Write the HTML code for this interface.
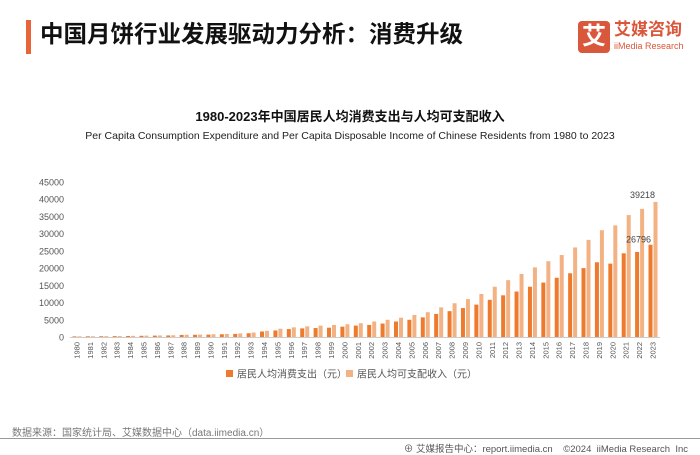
<!DOCTYPE html>
<html><head><meta charset="utf-8"><style>
body{margin:0;width:700px;height:455px;background:#fff;font-family:"Liberation Sans","Noto Sans CJK SC",sans-serif;overflow:hidden;position:relative}
.abs{position:absolute}
</style></head><body>
<div class="abs" style="left:26px;top:20px;width:5px;height:34px;background:#e8643a"></div>
<div class="abs" style="left:40px;top:19px;font-size:23.5px;font-weight:bold;color:#111;line-height:30px">中国月饼行业发展驱动力分析：消费升级</div>
<div class="abs" style="left:578px;top:21px;width:32px;height:32px;background:#d9573a;border-radius:4px;color:#fff;font-size:24px;font-weight:bold;text-align:center;line-height:32px">艾</div>
<div class="abs" style="left:614px;top:20px;font-size:17px;font-weight:bold;color:#d9573a;line-height:20px">艾媒咨询</div>
<div class="abs" style="left:614px;top:41px;font-size:9px;color:#d9573a;line-height:11px">iiMedia Research</div>
<div class="abs" style="left:0;width:700px;top:106px;text-align:center;font-size:13px;font-weight:bold;color:#111">1980-2023年中国居民人均消费支出与人均可支配收入</div>
<div class="abs" style="left:0;width:700px;top:130px;text-align:center;font-size:10.5px;color:#222">Per Capita Consumption Expenditure and Per Capita Disposable Income of Chinese Residents from 1980 to 2023</div>
<svg class="abs" style="left:0;top:0" width="700" height="455" id="chart"></svg>
<div class="abs" style="left:12px;top:424px;font-size:10px;color:#777">数据来源：国家统计局、艾媒数据中心（data.iimedia.cn）</div>
<div class="abs" style="left:0;top:438px;width:700px;height:1px;background:#999"></div>
<div class="abs" style="right:12px;top:441px;font-size:9.5px;color:#555">⊕ 艾媒报告中心：report.iimedia.cn &nbsp;&nbsp; ©2024 &nbsp;iiMedia Research &nbsp;Inc</div>
<script>
const years=[];for(let y=1980;y<=2023;y++)years.push(y);
const consumption=[180,200,220,250,300,350,400,450,600,650,700,800,900,1100,1600,1900,2300,2500,2600,2700,3000,3300,3500,3900,4500,5000,5700,6700,7500,8400,9400,10800,12100,13200,14600,15800,17200,18500,20000,21700,21300,24300,24700,26796];
const income=[200,220,250,280,330,400,450,500,650,700,800,900,1050,1300,1800,2400,2800,3100,3300,3500,3700,4000,4500,5000,5600,6400,7200,8600,9800,11000,12500,14600,16500,18300,20200,22000,23800,26000,28200,31000,32400,35400,37200,39218];
const ticks=[0,5000,10000,15000,20000,25000,30000,35000,40000,45000];
const svg=document.getElementById('chart');const NS='http://www.w3.org/2000/svg';
const y0=337,y1=182,ymax=45000,x0=77,step=(653-77)/43;
const Y=v=>y0-(v/ymax)*(y0-y1);const X=i=>x0+i*step;
function mk(t,a,txt){const e=document.createElementNS(NS,t);for(const k in a)e.setAttribute(k,a[k]);if(txt!=null)e.textContent=txt;svg.appendChild(e);return e;}
ticks.forEach(t=>{const e=mk('text',{x:64,y:Y(t)+3.5,'text-anchor':'end','font-size':9,fill:'#555'},t);

});
const ax=mk('line',{x1:70,x2:660,y1:y0+0.5,y2:y0+0.5,stroke:'#ccc'});


years.forEach((yr,i)=>{const cx=X(i);
const b1=mk('rect',{x:cx-4.5,y:Y(consumption[i]),width:4,height:y0-Y(consumption[i]),fill:'#ee7a2d'});


const b2=mk('rect',{x:cx+0.5,y:Y(income[i]),width:4,height:y0-Y(income[i]),fill:'#f3b283'});


const l=mk('text',{x:0,y:0,'font-size':7.5,fill:'#555','text-anchor':'end',transform:`translate(${cx+2.5},${y0+5}) rotate(-90)`},yr);

});
const n=years.length-1;
const v1=mk('text',{x:X(n)+2,y:Y(income[n])-4,'text-anchor':'end','font-size':9,fill:'#444'},income[n]);


const v2=mk('text',{x:X(n)-2,y:Y(consumption[n])-2,'text-anchor':'end','font-size':9,fill:'#444'},consumption[n]);


const lg1=mk('rect',{x:226,y:370,width:7,height:7,fill:'#ee7a2d'});


const lt1=mk('text',{x:237,y:377.5,'font-size':10,fill:'#555'},'居民人均消费支出（元）');


const lg2=mk('rect',{x:346,y:370,width:7,height:7,fill:'#f3b283'});


const lt2=mk('text',{x:357,y:377.5,'font-size':10,fill:'#555'},'居民人均可支配收入（元）');


</script>
</body></html>
